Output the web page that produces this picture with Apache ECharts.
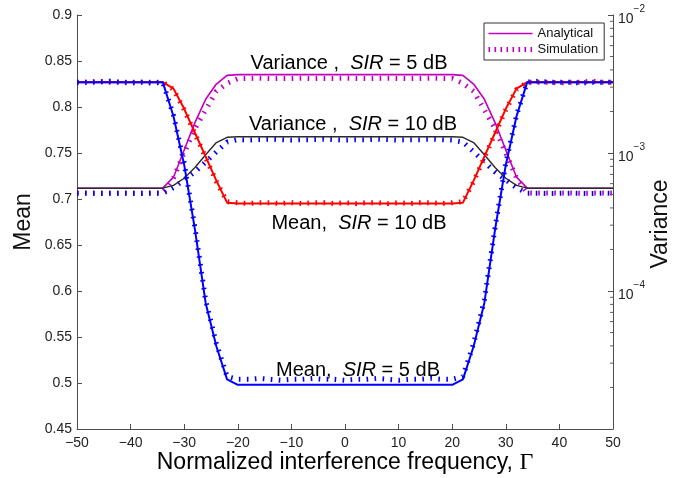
<!DOCTYPE html>
<html><head><meta charset="utf-8">
<script src="https://cdn.jsdelivr.net/npm/echarts@6/dist/echarts.min.js"></script>
<style>html,body{margin:0;padding:0;background:#fff}#c{width:684px;height:478px}</style>
</head><body><div id="c"></div>
<script>
// ---- data ----
const gamma = [-50,-48,-46,-44,-42,-40,-38,-36,-34,-32,-30,-28,-26,-24,-22,-20,-18,-16,-14,-12,-10,-8,-6,-4,-2,0,2,4,6,8,10,12,14,16,18,20,22,24,26,28,30,32,34,36,38,40,42,44,46,48,50];

const meanSir10Analytical = [0.827,0.827,0.827,0.827,0.827,0.827,0.827,0.827,0.827,
 0.820,0.798,0.772,0.746,0.720,0.696,
 0.695,0.695,0.695,0.695,0.695,0.695,0.695,0.695,0.695,0.695,0.695,0.695,0.695,0.695,0.695,0.695,0.695,0.695,0.695,0.695,0.695,
 0.696,0.720,0.746,0.772,0.798,0.820,
 0.827,0.827,0.827,0.827,0.827,0.827,0.827,0.827,0.827];
const meanSir10Simulation = [0.827,0.827,0.828,0.827,0.827,0.826,0.827,0.827,0.827,
 0.819,0.797,0.771,0.745,0.719,0.697,
 0.696,0.695,0.696,0.696,0.695,0.696,0.695,0.696,0.696,0.695,0.696,0.695,0.696,0.696,0.695,0.696,0.695,0.696,0.696,0.695,0.696,
 0.697,0.719,0.745,0.771,0.797,0.819,
 0.827,0.827,0.827,0.826,0.827,0.827,0.828,0.827,0.827];
const meanSir5Analytical = [0.827,0.827,0.827,0.827,0.827,0.827,0.827,0.827,0.827,
 0.790,0.737,0.667,0.587,0.540,0.504,
 0.498,0.498,0.498,0.498,0.498,0.498,0.498,0.498,0.498,0.498,0.498,0.498,0.498,0.498,0.498,0.498,0.498,0.498,0.498,0.498,0.498,
 0.504,0.540,0.587,0.667,0.737,0.790,
 0.827,0.827,0.827,0.827,0.827,0.827,0.827,0.827,0.827];
const meanSir5Simulation = [0.827,0.827,0.827,0.828,0.827,0.827,0.827,0.826,0.827,
 0.791,0.739,0.669,0.590,0.543,0.507,
 0.504,0.504,0.505,0.504,0.503,0.504,0.504,0.505,0.504,0.504,0.503,0.504,0.504,0.505,0.504,0.503,0.504,0.504,0.505,0.504,0.504,
 0.507,0.543,0.590,0.669,0.739,0.791,
 0.827,0.828,0.827,0.827,0.827,0.826,0.827,0.827,0.827];
const varSir5Analytical = [5.56e-4,5.56e-4,5.56e-4,5.56e-4,5.56e-4,5.56e-4,5.56e-4,5.56e-4,5.56e-4,
 6.68e-4,1.05e-3,1.66e-3,2.45e-3,3.16e-3,3.65e-3,
 3.70e-3,3.70e-3,3.70e-3,3.70e-3,3.70e-3,3.70e-3,3.70e-3,3.70e-3,3.70e-3,3.70e-3,3.70e-3,3.70e-3,3.70e-3,3.70e-3,3.70e-3,3.70e-3,3.70e-3,3.70e-3,3.70e-3,3.70e-3,3.70e-3,
 3.65e-3,3.16e-3,2.45e-3,1.66e-3,1.05e-3,6.68e-4,
 5.56e-4,5.56e-4,5.56e-4,5.56e-4,5.56e-4,5.56e-4,5.56e-4,5.56e-4,5.56e-4];
const varSir5Simulation = [5.13e-4,5.12e-4,5.14e-4,5.12e-4,5.11e-4,5.13e-4,5.12e-4,5.14e-4,5.13e-4,
 6.60e-4,1.00e-3,1.50e-3,2.05e-3,2.80e-3,3.20e-3,
 3.46e-3,3.47e-3,3.48e-3,3.46e-3,3.47e-3,3.47e-3,3.48e-3,3.46e-3,3.47e-3,3.47e-3,3.48e-3,3.47e-3,3.46e-3,3.47e-3,3.48e-3,3.47e-3,3.46e-3,3.47e-3,3.48e-3,3.47e-3,3.46e-3,
 3.20e-3,2.80e-3,2.05e-3,1.50e-3,1.00e-3,6.60e-4,
 5.13e-4,5.12e-4,5.14e-4,5.12e-4,5.13e-4,5.11e-4,5.12e-4,5.14e-4,5.13e-4];
const varSir10Analytical = [5.56e-4,5.56e-4,5.56e-4,5.56e-4,5.56e-4,5.56e-4,5.56e-4,5.56e-4,5.56e-4,
 5.82e-4,6.56e-4,7.85e-4,9.72e-4,1.19e-3,1.30e-3,
 1.31e-3,1.31e-3,1.31e-3,1.31e-3,1.31e-3,1.31e-3,1.31e-3,1.31e-3,1.31e-3,1.31e-3,1.31e-3,1.31e-3,1.31e-3,1.31e-3,1.31e-3,1.31e-3,1.31e-3,1.31e-3,1.31e-3,1.31e-3,1.31e-3,
 1.30e-3,1.19e-3,9.72e-4,7.85e-4,6.56e-4,5.82e-4,
 5.56e-4,5.56e-4,5.56e-4,5.56e-4,5.56e-4,5.56e-4,5.56e-4,5.56e-4,5.56e-4];
const varSir10Simulation = [5.10e-4,5.11e-4,5.09e-4,5.10e-4,5.12e-4,5.10e-4,5.09e-4,5.11e-4,5.10e-4,
 5.60e-4,6.40e-4,7.30e-4,8.60e-4,1.02e-3,1.20e-3,
 1.25e-3,1.24e-3,1.25e-3,1.26e-3,1.25e-3,1.24e-3,1.25e-3,1.25e-3,1.26e-3,1.25e-3,1.24e-3,1.25e-3,1.25e-3,1.26e-3,1.25e-3,1.24e-3,1.25e-3,1.25e-3,1.26e-3,1.25e-3,1.24e-3,
 1.20e-3,1.02e-3,8.60e-4,7.30e-4,6.40e-4,5.60e-4,
 5.10e-4,5.11e-4,5.09e-4,5.10e-4,5.12e-4,5.10e-4,5.09e-4,5.11e-4,5.10e-4];

const xTicks = [-50,-40,-30,-20,-10,0,10,20,30,40,50];
const meanTicks = [0.45,0.5,0.55,0.6,0.65,0.7,0.75,0.8,0.85,0.9];
const varMinorTicks = [2e-5,3e-5,4e-5,5e-5,6e-5,7e-5,8e-5,9e-5,2e-4,3e-4,4e-4,5e-4,6e-4,7e-4,8e-4,9e-4,2e-3,3e-3,4e-3,5e-3,6e-3,7e-3,8e-3,9e-3];

// ---- chart ----
const FONT = '"Liberation Sans", Arial, Helvetica, sans-serif';
const AX = '#4d4d4d';
const MAG = '#c000c0', RED = '#ff0000', BLUE = '#0000ff', BLK = '#2a2a2a';
const pairs = arr => gamma.map((g, i) => [g, arr[i]]);
const SIMDASH = [1.6, 6.4];

function simSeries(name, arr, color, yIdx) {
  return { name, type: 'line', yAxisIndex: yIdx, data: pairs(arr), symbol: 'none', silent: true,
    color, lineStyle: { color, width: 5, type: SIMDASH, cap: 'butt' }, z: 2 };
}
function anaSeries(name, arr, color, yIdx, w) {
  return { name, type: 'line', yAxisIndex: yIdx, data: pairs(arr), symbol: 'none', silent: true,
    color, lineStyle: { color, width: w }, z: 3 };
}

const chart = echarts.init(document.getElementById('c'), null, { renderer: 'canvas' });
const rich = {
  n: { fontFamily: FONT, fontSize: 20, color: '#111' },
  i: { fontFamily: FONT, fontSize: 20, fontStyle: 'italic', color: '#111' }
};
function note(txt, x, y) {
  return { type: 'text', x, y, z: 10, style: { text: txt, rich, align: 'center', verticalAlign: 'middle',
    textAlign: 'center', textVerticalAlign: 'middle' } };
}
chart.setOption({
  animation: false,
  backgroundColor: '#fff',
  grid: { left: 77, right: 71, top: 15, bottom: 49, containLabel: false },
  legend: {
    data: [
      { name: 'Analytical', lineStyle: { color: MAG, width: 1.6, type: 'solid' } },
      { name: 'Simulation', lineStyle: { color: MAG, width: 5, type: [1.6, 4.4], cap: 'butt' } }
    ],
    orient: 'vertical', left: 484, top: 23,
    backgroundColor: '#fff', borderColor: '#333', borderWidth: 1, padding: [4, 6, 4, 2],
    itemGap: 3, itemWidth: 44, itemHeight: 15,
    itemStyle: { opacity: 0 },
    textStyle: { fontFamily: FONT, fontSize: 13, color: '#111' }
  },
  xAxis: {
    type: 'value', min: xTicks[0], max: xTicks[xTicks.length - 1], interval: 10,
    axisLine: { onZero: false, lineStyle: { color: AX, width: 1 } },
    axisTick: { inside: true, length: 5, lineStyle: { color: AX } },
    axisLabel: { fontFamily: FONT, fontSize: 14, color: '#222', margin: 7,
      formatter: v => String(v).replace('-', '\u2212') },
    splitLine: { show: false }
  },
  yAxis: [
    { type: 'value', min: meanTicks[0], max: meanTicks[meanTicks.length - 1], interval: 0.05, position: 'left',
      axisLine: { show: true, onZero: false, lineStyle: { color: AX, width: 1 } },
      axisTick: { show: true, inside: true, length: 5, lineStyle: { color: AX } },
      axisLabel: { fontFamily: FONT, fontSize: 14, color: '#222', margin: 5,
        formatter: v => String(+v.toFixed(2)) },
      splitLine: { show: false } },
    { type: 'log', logBase: 10, min: 1e-5, max: 1e-2, position: 'right', splitNumber: 3,
      axisLine: { show: true, onZero: false, lineStyle: { color: AX, width: 1 } },
      axisTick: { show: true, inside: true, length: 5, lineStyle: { color: AX } },
      axisLabel: { margin: 5,
        formatter: v => { const e = Math.round(Math.log10(v)); if (e <= -5) return ''; return '{b|10}{s|\u2212' + Math.abs(e) + '}'; },
        rich: { b: { fontFamily: FONT, fontSize: 14, color: '#222', lineHeight: 22, verticalAlign: 'bottom' },
                s: { fontFamily: FONT, fontSize: 10, color: '#222', verticalAlign: 'top' } } },
      splitLine: { show: false } }
  ],
  series: [
    simSeries('Simulation', varSir5Simulation, MAG, 1),
    simSeries('Variance SIR=10 sim', varSir10Simulation, BLUE, 1),
    simSeries('Mean SIR=10 sim', meanSir10Simulation, RED, 0),
    simSeries('Mean SIR=5 sim', meanSir5Simulation, BLUE, 0),
    anaSeries('Analytical', varSir5Analytical, MAG, 1, 1.6),
    anaSeries('Variance SIR=10 ana', varSir10Analytical, BLK, 1, 1.4),
    anaSeries('Mean SIR=10 ana', meanSir10Analytical, RED, 0, 2),
    anaSeries('Mean SIR=5 ana', meanSir5Analytical, BLUE, 0, 2),
    { name: 'minorTicks', type: 'scatter', yAxisIndex: 1, silent: true, clip: false,
      data: varMinorTicks.map(v => [xTicks[xTicks.length - 1], v]),
      symbol: 'rect', symbolSize: [3, 1], symbolOffset: [-1.5, 0],
      itemStyle: { color: '#333' }, z: 1 }
  ],
  graphic: [
    note('{n|Variance ,  }{i|SIR}{n| = 5 dB}', 349, 63),
    note('{n|Variance ,  }{i|SIR}{n| = 10 dB}', 353, 124),
    note('{n|Mean,  }{i|SIR}{n| = 10 dB}', 359, 223),
    note('{n|Mean,  }{i|SIR}{n| = 5 dB}', 358, 370),
    { type: 'text', x: 345, y: 463, style: { text: '{n|Normalized interference frequency, }{g|\u0393}',
      rich: { n: { fontFamily: FONT, fontSize: 23, color: '#111' }, g: { fontFamily: '"Liberation Serif", "Times New Roman", serif', fontSize: 24, color: '#111' } },
      align: 'center', verticalAlign: 'middle', textAlign: 'center', textVerticalAlign: 'middle' } },
    { type: 'text', x: 24, y: 222, rotation: Math.PI / 2, style: { text: 'Mean', fontFamily: FONT, fontSize: 23, fill: '#111',
      font: '23px ' + FONT, align: 'center', verticalAlign: 'middle', textAlign: 'center', textVerticalAlign: 'middle' } },
    { type: 'text', x: 661, y: 224, rotation: Math.PI / 2, style: { text: 'Variance', fontFamily: FONT, fontSize: 23, fill: '#111',
      font: '23px ' + FONT, align: 'center', verticalAlign: 'middle', textAlign: 'center', textVerticalAlign: 'middle' } }
  ]
});
</script></body></html>
